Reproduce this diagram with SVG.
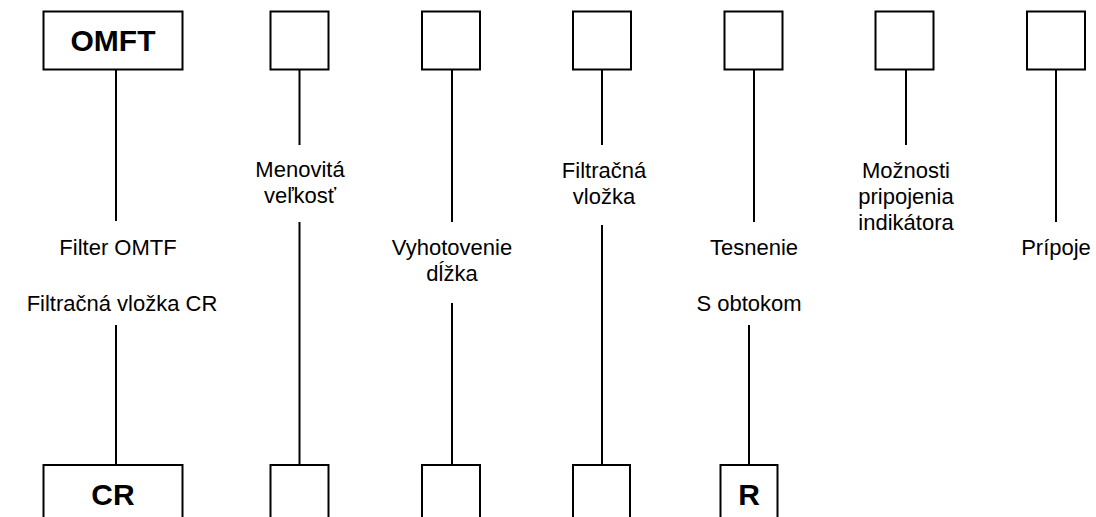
<svg xmlns="http://www.w3.org/2000/svg" width="1096" height="517" viewBox="0 0 1096 517">
<style>
.box{fill:#fff;stroke:#000;stroke-width:2}
.ln{stroke:#000;stroke-width:2;fill:none}
.lbl{font-family:"Liberation Sans",Arial,sans-serif;font-size:22px;fill:#000;text-anchor:middle}
.code{font-family:"Liberation Sans",Arial,sans-serif;font-size:30px;font-weight:bold;fill:#000;text-anchor:middle}
</style>
<rect width="1096" height="517" fill="#fff"/>
<g id="connectors">
<line class="ln" x1="116" y1="70" x2="116" y2="221"/>
<line class="ln" x1="116" y1="325" x2="116" y2="465"/>
<line class="ln" x1="299.5" y1="70" x2="299.5" y2="145"/>
<line class="ln" x1="299.5" y1="222" x2="299.5" y2="465"/>
<line class="ln" x1="452" y1="70" x2="452" y2="222"/>
<line class="ln" x1="452" y1="303" x2="452" y2="465"/>
<line class="ln" x1="602" y1="70" x2="602" y2="145"/>
<line class="ln" x1="602" y1="225" x2="602" y2="465"/>
<line class="ln" x1="754" y1="70" x2="754" y2="222"/>
<line class="ln" x1="749" y1="325" x2="749" y2="465"/>
<line class="ln" x1="906" y1="70" x2="906" y2="145"/>
<line class="ln" x1="1056" y1="70" x2="1056" y2="222"/>
</g>
<g id="top-omft"><rect class="box" x="43.5" y="11.5" width="139" height="58"/><text class="code" x="113" y="51">OMFT</text></g>
<g id="top-2"><rect class="box" x="270.5" y="11.5" width="58" height="58"/></g>
<g id="top-3"><rect class="box" x="422" y="11.5" width="58" height="58"/></g>
<g id="top-4"><rect class="box" x="573" y="11.5" width="58" height="58"/></g>
<g id="top-5"><rect class="box" x="724.5" y="11.5" width="58" height="58"/></g>
<g id="top-6"><rect class="box" x="875.5" y="11.5" width="58" height="58"/></g>
<g id="top-7"><rect class="box" x="1027" y="11.5" width="58" height="58"/></g>
<g id="lbl-filter"><text class="lbl" x="118" y="255">Filter OMTF</text></g>
<g id="lbl-cartridge"><text class="lbl" x="122" y="311">Filtračná vložka CR</text></g>
<g id="lbl-size"><text class="lbl" x="300" y="177">Menovitá</text><text class="lbl" x="300" y="203">veľkosť</text></g>
<g id="lbl-length"><text class="lbl" x="452" y="255">Vyhotovenie</text><text class="lbl" x="452" y="281">dĺžka</text></g>
<g id="lbl-element"><text class="lbl" x="604" y="178">Filtračná</text><text class="lbl" x="604" y="204">vložka</text></g>
<g id="lbl-seal"><text class="lbl" x="754" y="255">Tesnenie</text></g>
<g id="lbl-bypass"><text class="lbl" x="749" y="311">S obtokom</text></g>
<g id="lbl-indicator"><text class="lbl" x="906" y="178">Možnosti</text><text class="lbl" x="906" y="204">pripojenia</text><text class="lbl" x="906" y="230">indikátora</text></g>
<g id="lbl-ports"><text class="lbl" x="1056" y="255">Prípoje</text></g>
<g id="bot-cr"><rect class="box" x="43.5" y="465" width="139" height="70"/><text class="code" x="113" y="505">CR</text></g>
<g id="bot-2"><rect class="box" x="270.5" y="465" width="58" height="70"/></g>
<g id="bot-3"><rect class="box" x="422" y="465" width="58" height="70"/></g>
<g id="bot-4"><rect class="box" x="573" y="465" width="57" height="70"/></g>
<g id="bot-r"><rect class="box" x="720.5" y="465" width="57" height="70"/><text class="code" x="749" y="505">R</text></g>
</svg>
